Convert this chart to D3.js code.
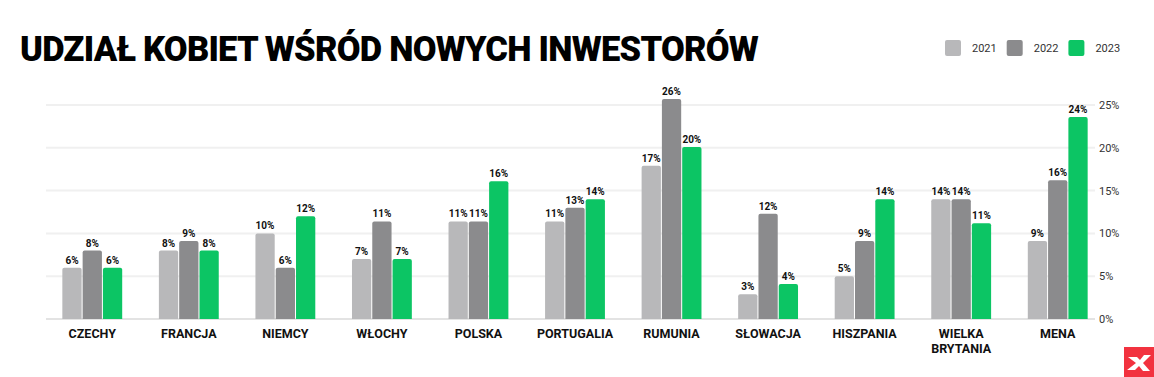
<!DOCTYPE html>
<html>
<head>
<meta charset="utf-8">
<script src="https://cdn.jsdelivr.net/npm/d3@7"></script>
<style>
  html, body { margin: 0; padding: 0; background: #fff; }
  body { width: 1154px; height: 377px; overflow: hidden; font-family: Roboto, 'Noto Sans', sans-serif; }
</style>
</head>
<body>
<div id="chart-container"></div>
<script>
const categories = ['CZECHY', 'FRANCJA', 'NIEMCY', 'WŁOCHY', 'POLSKA', 'PORTUGALIA', 'RUMUNIA', 'SŁOWACJA', 'HISZPANIA', 'WIELKA BRYTANIA', 'MENA'];
const years = ['2021', '2022', '2023'];
const values2021 = [6, 8, 10, 7, 11.4, 11.4, 17.9, 2.9, 5, 14, 9.1];
const values2022 = [8, 9.1, 6, 11.4, 11.4, 13, 25.7, 12.3, 9.1, 14, 16.2];
const values2023 = [6, 8, 12, 7, 16.1, 14, 20.1, 4.1, 14, 11.2, 23.6];
const labels2021 = ['6%', '8%', '10%', '7%', '11%', '11%', '17%', '3%', '5%', '14%', '9%'];
const labels2022 = ['8%', '9%', '6%', '11%', '11%', '13%', '26%', '12%', '9%', '14%', '16%'];
const labels2023 = ['6%', '8%', '12%', '7%', '16%', '14%', '20%', '4%', '14%', '11%', '24%'];
const yTicks = [0, 5, 10, 15, 20, 25];
const colors = ['#b8b8ba', '#8b8b8d', '#0cc564'];

(function() {
  const width = 1154;
  const height = 377;
  const series = [
    { year: years[0], values: values2021, labels: labels2021, color: colors[0] },
    { year: years[1], values: values2022, labels: labels2022, color: colors[1] },
    { year: years[2], values: values2023, labels: labels2023, color: colors[2] },
  ];

  const svg = d3.select('#chart-container').append('svg')
      .attr('width', width)
      .attr('height', height)
      .attr('viewBox', `0 0 ${width} ${height}`);

  // Scales
  const xScale = d3.scaleBand(categories, [44, 1106]).paddingInner(0.38).paddingOuter(0.19);
  const xInner = d3.scaleBand(years, [0, xScale.bandwidth()]).paddingInner(0.05);
  const yScale = d3.scaleLinear([0, 25], [319, 105]);

  // Title
  svg.append('text')
      .attr('x', 20)
      .attr('y', 61)
      .attr('font-size', 34.5)
      .attr('font-weight', 900)
      .attr('letter-spacing', -0.75)
      .attr('fill', '#000')
      .text('UDZIAŁ KOBIET WŚRÓD NOWYCH INWESTORÓW');

  // Legend
  const legend = svg.append('g').attr('transform', 'translate(945, 40)');
  series.forEach((s, i) => {
    const g = legend.append('g').attr('transform', `translate(${i * 61.7}, 0)`);
    g.append('rect')
        .attr('width', 16).attr('height', 16)
        .attr('rx', 2)
        .attr('fill', s.color);
    g.append('text')
        .attr('x', 27).attr('y', 12)
        .attr('font-size', 11)
        .attr('fill', '#333')
        .text(s.year);
  });

  // Gridlines
  svg.append('g')
    .selectAll('line')
    .data(yTicks)
    .join('line')
      .attr('x1', 46).attr('x2', 1095)
      .attr('y1', d => yScale(d)).attr('y2', d => yScale(d))
      .attr('stroke', d => d === 0 ? '#e3e3e3' : '#f0f0f0')
      .attr('stroke-width', 2);

  // Y axis on the right
  const yAxis = d3.axisRight(yScale).tickValues(yTicks).tickFormat(d => d + '%').tickSize(0).tickPadding(0);
  const yG = svg.append('g')
      .attr('id', 'y-axis')
      .attr('transform', 'translate(1099, 0)')
      .call(yAxis);
  yG.select('.domain').remove();
  yG.selectAll('text')
      .attr('font-family', 'Roboto, sans-serif')
      .attr('font-size', 11)
      .attr('fill', '#333');

  // Bars
  const groups = svg.append('g')
    .selectAll('g')
    .data(categories)
    .join('g')
      .attr('transform', d => `translate(${xScale(d)}, 0)`);

  series.forEach(s => {
    groups.append('path')
        .attr('fill', s.color)
        .attr('d', (d, i) => {
          const x = xInner(s.year);
          const w = xInner.bandwidth();
          const y0 = yScale(0);
          const y1 = yScale(s.values[i]);
          const r = 2;
          return `M${x},${y0}V${y1 + r}Q${x},${y1} ${x + r},${y1}H${x + w - r}Q${x + w},${y1} ${x + w},${y1 + r}V${y0}Z`;
        });
    groups.append('text')
        .attr('x', xInner(s.year) + xInner.bandwidth() / 2)
        .attr('y', (d, i) => yScale(s.values[i]) - 4)
        .attr('text-anchor', 'middle')
        .attr('font-size', 10)
        .attr('font-weight', 700)
        .attr('fill', '#111')
        .text((d, i) => s.labels[i]);
  });

  // Category labels
  const xAxis = d3.axisBottom(xScale).tickSize(0).tickPadding(0);
  const xG = svg.append('g')
      .attr('id', 'x-axis')
      .attr('transform', 'translate(0, 328)')
      .call(xAxis);
  xG.select('.domain').remove();
  xG.selectAll('text').each(function(d) {
    const t = d3.select(this);
    const words = d.split(' ');
    t.text(null)
      .attr('y', 0)
      .attr('dy', null)
      .attr('font-family', 'Roboto, sans-serif')
      .attr('font-size', 12.5)
      .attr('font-weight', 700)
      .attr('fill', '#111');
    words.forEach((w, k) => {
      t.append('tspan').attr('x', 0).attr('y', 10 + k * 15).text(w);
    });
  });

  // Logo
  const logo = svg.append('g').attr('transform', 'translate(1124, 347)');
  logo.append('rect').attr('width', 30).attr('height', 30).attr('fill', '#f2323f');
  logo.append('path')
      .attr('fill', '#fff')
      .attr('d', 'M4,10 L13,10 L16,13 L20,8 L27,8 L19,16 L26,24 L19,24 L15,19 L11,23 L3,23 L12,16 Z');
})();
</script>
</body>
</html>
